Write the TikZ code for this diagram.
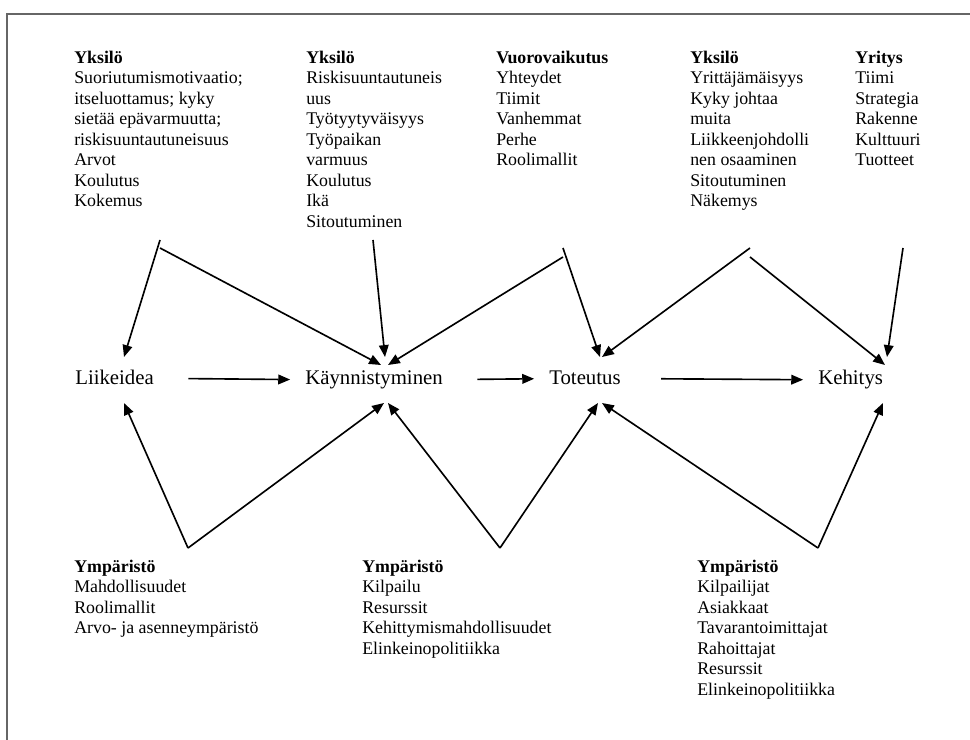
\documentclass[tikz,border=0pt]{standalone}
\usepackage{fontspec}
\setmainfont{Liberation Serif}
\usetikzlibrary{arrows.meta}
\colorlet{frame gray}{gray!80!black}
\tikzset{
	ryhma/.style={anchor=north west, inner sep=0pt, align=left, font=\fontsize{12}{13.8}\selectfont},
	vaihe/.style={anchor=base west, inner sep=0pt, font=\fontsize{14}{16.8}\selectfont},
	nuoli/.style={line width=1.1pt, -{Triangle[length=8pt,width=6.5pt]}},
	vaakanuoli/.style={nuoli, shorten <=23pt, shorten >=10pt}
}

\begin{document}
\begin{tikzpicture}[x=0.673pt, y=-0.673pt]
			\useasboundingbox (0,0) rectangle (970,740);
			\draw[color=frame gray, line width=1pt] (7,740) -- (7,14) -- (970,14);
			\node[ryhma] (yksilo1) at (74,48.6){\strut\textbf{Yksilö}\\Suoriutumismotivaatio;\\itseluottamus; kyky\\sietää epävarmuutta;\\riskisuuntautuneisuus\\Arvot\\Koulutus\\Kokemus};
			\node[ryhma] (yksilo2) at (306,48.6){\strut\textbf{Yksilö}\\Riskisuuntautuneis\\uus\\Työtyytyväisyys\\Työpaikan\\varmuus\\Koulutus\\Ikä\\Sitoutuminen};
			\node[ryhma] (vuoro) at (496,48.6){\strut\textbf{Vuorovaikutus}\\Yhteydet\\Tiimit\\Vanhemmat\\Perhe\\Roolimallit};
			\node[ryhma] (yksilo3) at (690,48.6){\strut\textbf{Yksilö}\\Yrittäjämäisyys\\Kyky johtaa\\muita\\Liikkeenjohdolli\\nen osaaminen\\Sitoutuminen\\Näkemys};
			\node[ryhma] (yritys) at (855,48.6){\strut\textbf{Yritys}\\Tiimi\\Strategia\\Rakenne\\Kulttuuri\\Tuotteet};
			\node[ryhma] (ymp1) at (74,557.6){\strut\textbf{Ympäristö}\\Mahdollisuudet\\Roolimallit\\Arvo- ja asenneympäristö};
			\node[ryhma] (ymp2) at (362,557.6){\strut\textbf{Ympäristö}\\Kilpailu\\Resurssit\\Kehittymismahdollisuudet\\Elinkeinopolitiikka};
			\node[ryhma] (ymp3) at (697,557.6){\strut\textbf{Ympäristö}\\Kilpailijat\\Asiakkaat\\Tavarantoimittajat\\Rahoittajat\\Resurssit\\Elinkeinopolitiikka};
			\node[vaihe] (liike) at (75,385){Liikeidea};
			\node[vaihe] (kaynn) at (305,385){Käynnistyminen};
			\node[vaihe] (tot) at (549,385){Toteutus};
			\node[vaihe] (keh) at (818,385){Kehitys};
			\draw[vaakanuoli] (liike) -- (kaynn);
			\draw[vaakanuoli] (kaynn) -- (tot);
			\draw[vaakanuoli, shorten <=27pt] (tot) -- (keh);
			\coordinate (y1) at (160,240);
			\coordinate (y1b) at (160,248);
			\coordinate (y2) at (373,240);
			\coordinate (v1) at (563,257);
			\coordinate (v1b) at (563,248);
			\coordinate (y3) at (750,248);
			\coordinate (y3b) at (750,257);
			\coordinate (yr) at (903,248);
			\coordinate (liike-y) at (124,357);
			\coordinate (kaynn-y1) at (381,365);
			\coordinate (kaynn-y2) at (385,357);
			\coordinate (kaynn-y3) at (388,365);
			\coordinate (tot-y1) at (600,357);
			\coordinate (tot-y2) at (602,357);
			\coordinate (keh-y1) at (885,365);
			\coordinate (keh-y2) at (887,357);
			\draw[nuoli] (y1) -- (liike-y);
			\draw[nuoli] (y1b) -- (kaynn-y1);
			\draw[nuoli] (y2) -- (kaynn-y2);
			\draw[nuoli] (v1) -- (kaynn-y3);
			\draw[nuoli] (v1b) -- (tot-y1);
			\draw[nuoli] (y3) -- (tot-y2);
			\draw[nuoli] (y3b) -- (keh-y1);
			\draw[nuoli] (yr) -- (keh-y2);
			\coordinate (a1) at (188,548);
			\coordinate (a2) at (500,548);
			\coordinate (a3) at (818,548);
			\coordinate (liike-a) at (124,403);
			\coordinate (kaynn-a1) at (384,403);
			\coordinate (kaynn-a2) at (388,403);
			\coordinate (tot-a1) at (598,403);
			\coordinate (tot-a2) at (602,403);
			\coordinate (keh-a) at (883,403);
			\draw[nuoli] (a1) -- (liike-a);
			\draw[nuoli] (a1) -- (kaynn-a1);
			\draw[nuoli] (a2) -- (kaynn-a2);
			\draw[nuoli] (a2) -- (tot-a1);
			\draw[nuoli] (a3) -- (tot-a2);
			\draw[nuoli] (a3) -- (keh-a);
		\end{tikzpicture}
\end{document}
